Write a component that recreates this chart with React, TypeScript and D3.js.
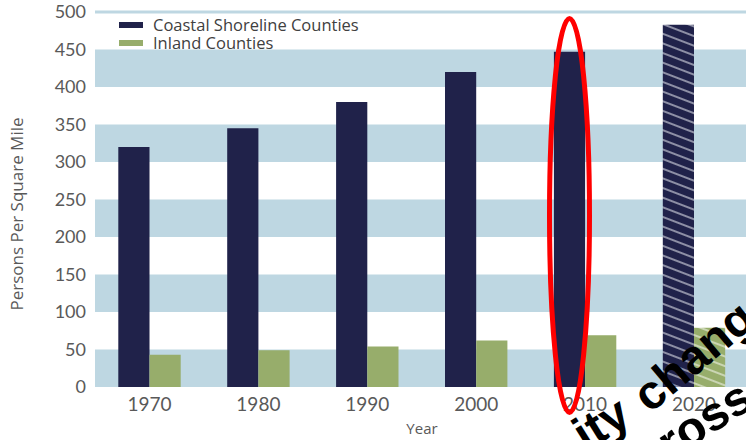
import React from "react";
import * as d3 from "d3";

const years = ["1970", "1980", "1990", "2000", "2010", "2020"];
const coastal = [320, 345, 380, 420, 447, 483];
const inland = [43, 49, 54, 62, 69, 79];
const seriesNames = ["Coastal Shoreline Counties", "Inland Counties"];
const yTicks = [0, 50, 100, 150, 200, 250, 300, 350, 400, 450, 500];
const projectedYear = "2020";
const highlightYear = "2010";
// overlaid caption, only partly inside the picture
const overlayWords = ["ity", "chang", "across"];

const W = 746;
const H = 440;
const NAVY = "#20224a";
const GREEN = "#97ad6b";
const BAND = "#bed7e2";
const TEXT = "#595959";
const TICK_FONT = "Lato, 'Open Sans', sans-serif";
const LABEL_FONT = "'Open Sans', Lato, sans-serif";

const App = () => {
  const x = d3.scaleBand<string>().domain(years).range([95, 748.5]).paddingInner(0.427).paddingOuter(0.214);
  const y = d3.scaleLinear().domain([0, 500]).range([387, 12]);
  const bw = x.bandwidth() / 2;

  // alternating bands: blue on 0-50, 100-150, ...
  const bands = yTicks.filter((t, i) => i % 2 === 0 && t < 500);

  const hx = (x(highlightYear) as number) + bw / 2;

  return (
    <svg width={W} height={H} style={{ position: "absolute", left: 0, top: 0, background: "#fff" }}>
      <defs>
        <pattern id="hatchNavy" patternUnits="userSpaceOnUse" width={10} height={9} patternTransform="rotate(21)">
          <rect width={10} height={9} fill={NAVY} />
          <line x1={0} y1={1} x2={10} y2={1} stroke="#e6e8f0" strokeWidth={1.3} opacity={0.85} />
        </pattern>
        <pattern id="hatchGreen" patternUnits="userSpaceOnUse" width={10} height={9} patternTransform="rotate(21)">
          <rect width={10} height={9} fill={GREEN} />
          <line x1={0} y1={1} x2={10} y2={1} stroke="#f4f6ee" strokeWidth={1.3} opacity={0.85} />
        </pattern>
      </defs>

      {/* background bands */}
      {bands.map((t) => (
        <rect key={t} x={95} y={y(t + 50)} width={W - 95} height={y(t) - y(t + 50)} fill={BAND} />
      ))}
      <rect x={95} y={y(500) - 1.5} width={W - 95} height={3} fill={BAND} />

      {/* bars */}
      {years.map((yr, i) => {
        const hatched = yr === projectedYear;
        const x0 = x(yr) as number;
        return (
          <g key={yr}>
            <rect x={x0} y={y(coastal[i])} width={bw} height={y(0) - y(coastal[i])} fill={hatched ? "url(#hatchNavy)" : NAVY} />
            <rect x={x0 + bw} y={y(inland[i])} width={bw} height={y(0) - y(inland[i])} fill={hatched ? "url(#hatchGreen)" : GREEN} />
          </g>
        );
      })}

      {/* y axis labels */}
      {yTicks.map((t) => (
        <text key={t} x={86} y={y(t)} dy="0.36em" textAnchor="end" fontFamily={TICK_FONT} fontSize={18} fill={TEXT}>
          {t}
        </text>
      ))}

      {/* x axis labels */}
      {years.map((yr) => (
        <text key={yr} x={(x(yr) as number) + x.bandwidth() / 2} y={411} textAnchor="middle" fontFamily={TICK_FONT} fontSize={19} fill={TEXT}>
          {yr}
        </text>
      ))}

      <text x={422} y={434} textAnchor="middle" fontFamily={LABEL_FONT} fontSize={15} fill={TEXT}>Year</text>
      <text transform="translate(23,214) rotate(-90)" textAnchor="middle" fontFamily={LABEL_FONT} fontSize={17} fill={TEXT}>
        Persons Per Square Mile
      </text>

      {/* legend */}
      {seriesNames.map((name, i) => (
        <g key={name} transform={`translate(119,${22 + i * 18})`}>
          <rect width={24} height={6} fill={i === 0 ? NAVY : GREEN} />
          <text x={34} y={8.5} fontFamily={LABEL_FONT} fontSize={16.5} fill="#404040">{name}</text>
        </g>
      ))}

      {/* red highlight ellipse */}
      <ellipse cx={hx} cy={215.5} rx={20} ry={197} fill="none" stroke="#ff0000" strokeWidth={5} />

      {/* overlaid caption text */}
      <g fontFamily="'Liberation Sans', Arial, sans-serif" fontWeight="bold" fontSize={48} fill="#000">
        <text transform="translate(586,452) rotate(-32)">{overlayWords[0]}</text>
        <text transform="translate(650,414) rotate(-40)">{overlayWords[1]}</text>
        <text transform="translate(626,490) rotate(-33)">{overlayWords[2]}</text>
      </g>
    </svg>
  );
};

export default App;
